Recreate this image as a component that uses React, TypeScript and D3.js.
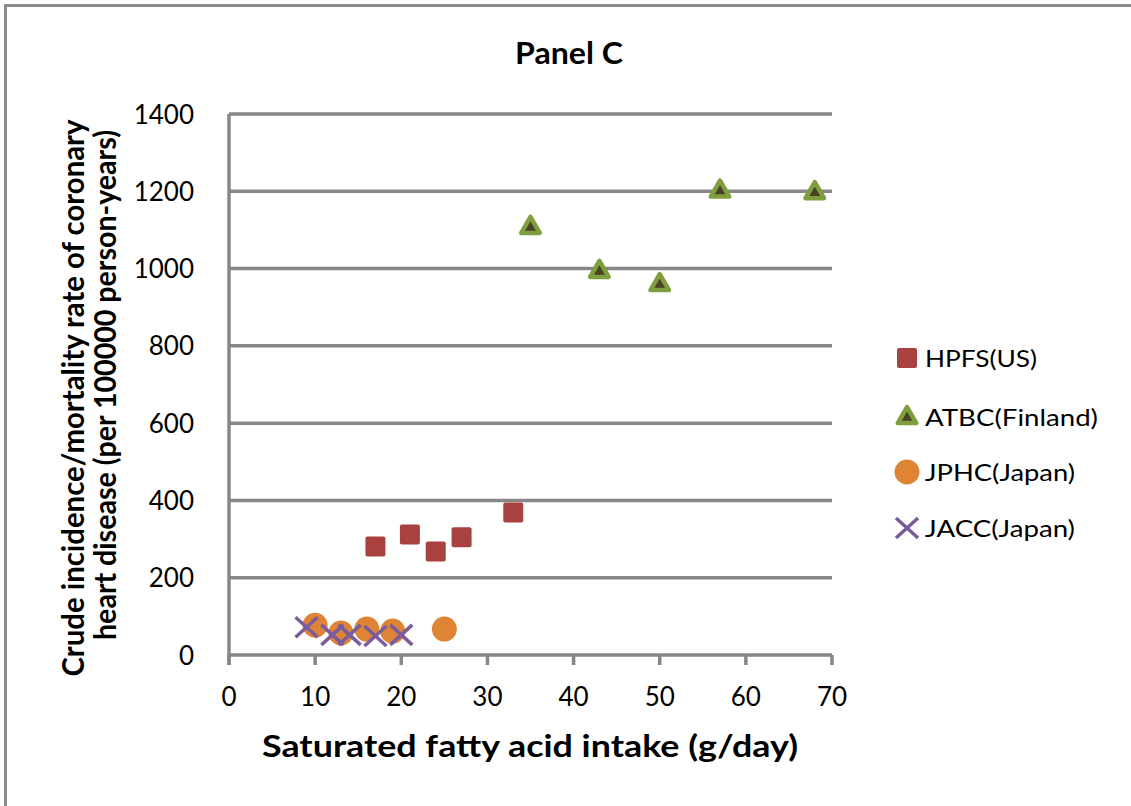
import React from 'react';
import * as d3 from 'd3';

// values
const hpfsX = [17, 21, 24, 27, 33];
const hpfsY = [281, 312, 268, 305, 369];
const atbcX = [35, 43, 50, 57, 68];
const atbcY = [1108, 994, 960, 1202, 1198];
const jphcX = [10, 13, 16, 19, 25];
const jphcY = [77, 57, 67, 62, 67];
const jaccX = [9, 12, 14, 17, 20];
const jaccY = [72, 52, 52, 49, 52];

const xTicks = [0, 10, 20, 30, 40, 50, 60, 70];
const yTicks = [0, 200, 400, 600, 800, 1000, 1200, 1400];
const seriesNames = ['HPFS(US)', 'ATBC(Finland)', 'JPHC(Japan)', 'JACC(Japan)'];
const legendWidths = [112, 173, 150, 150];

const font = 'Lato, "Open Sans", sans-serif';
const grid = '#878787';

const red = '#A9423F';
const green = '#7F9E3E';
const darkFill = '#4A4129';
const orange = '#DE8434';
const purple = '#7A5C9C';

function Marker({ kind, x, y }: { kind: number; x: number; y: number }) {
  if (kind === 0) {
    return <rect x={x - 10} y={y - 10} width={20} height={20} rx={2} fill={red} />;
  }
  if (kind === 1) {
    const s = 18.5;
    const h = (s * Math.sqrt(3)) / 2;
    const tri = d3.line()([
      [0, -h * 0.62],
      [s / 2, h * 0.38],
      [-s / 2, h * 0.38],
    ]) + 'Z';
    return (
      <path
        d={tri}
        transform={`translate(${x},${y})`}
        fill={darkFill}
        stroke={green}
        strokeWidth={4.5}
        strokeLinejoin="round"
      />
    );
  }
  if (kind === 2) {
    return <circle cx={x} cy={y} r={12.5} fill={orange} />;
  }
  return (
    <g stroke={purple} strokeWidth={3.5}>
      <line x1={x - 11} y1={y - 10} x2={x + 11} y2={y + 10} />
      <line x1={x - 11} y1={y + 10} x2={x + 11} y2={y - 10} />
    </g>
  );
}

export default function App() {
  const width = 1131;
  const height = 806;
  const x = d3.scaleLinear().domain([0, 70]).range([229, 832]);
  const y = d3.scaleLinear().domain([0, 1400]).range([655, 114]);

  const series = [
    { xs: hpfsX, ys: hpfsY },
    { xs: atbcX, ys: atbcY },
    { xs: jphcX, ys: jphcY },
    { xs: jaccX, ys: jaccY },
  ];
  const legendY = [358, 417, 472, 528];

  return (
    <svg width={width} height={height} style={{ position: 'absolute', left: 0, top: 0, background: '#fff' }}>
      <rect x={5.5} y={5.5} width={width + 20} height={height + 20} fill="#fff" stroke="#8c8c8c" strokeWidth={3} />

      <text x={569} y={64} textAnchor="middle" fontFamily={font} fontWeight="bold" fontSize={30}
        textLength={108} lengthAdjust="spacingAndGlyphs">
        Panel C
      </text>

      {yTicks.map((t) => (
        <g key={t}>
          <line x1={x(0)} x2={x(70)} y1={y(t)} y2={y(t)} stroke={grid} strokeWidth={3.5} />
          <text x={194} y={y(t) + 9.5} textAnchor="end" fontFamily={font} fontSize={26}>
            {t}
          </text>
        </g>
      ))}
      <line x1={x(0)} x2={x(0)} y1={y(1400)} y2={y(0) + 10} stroke={grid} strokeWidth={3.5} />
      {xTicks.map((t) => (
        <g key={t}>
          <line x1={x(t)} x2={x(t)} y1={y(0)} y2={y(0) + 10} stroke={grid} strokeWidth={3.5} />
          <text x={x(t)} y={706} textAnchor="middle" fontFamily={font} fontSize={26}>
            {t}
          </text>
        </g>
      ))}

      {series.map((s, k) =>
        s.xs.map((v, i) => <Marker key={`${k}-${i}`} kind={k} x={x(v)} y={y(s.ys[i])} />)
      )}

      <text x={530} y={757} textAnchor="middle" fontFamily={font} fontWeight="bold" fontSize={30}
        textLength={536} lengthAdjust="spacingAndGlyphs">
        Saturated fatty acid intake (g/day)
      </text>

      <g transform="translate(84,398) rotate(-90)">
        <text x={0} y={0} textAnchor="middle" fontFamily={font} fontWeight="bold" fontSize={30}
          textLength={557} lengthAdjust="spacingAndGlyphs">
          Crude incidence/mortality  rate of coronary
        </text>
      </g>
      <g transform="translate(116,385) rotate(-90)">
        <text x={0} y={0} textAnchor="middle" fontFamily={font} fontWeight="bold" fontSize={30}
          textLength={510} lengthAdjust="spacingAndGlyphs">
          heart disease  (per 100000 person-years)
        </text>
      </g>

      {seriesNames.map((name, k) => (
        <g key={name}>
          <Marker kind={k} x={907} y={legendY[k]} />
          <text x={925} y={legendY[k] + 9} fontFamily={font} fontSize={24}
            textLength={legendWidths[k]} lengthAdjust="spacingAndGlyphs">
            {name}
          </text>
        </g>
      ))}
    </svg>
  );
}
